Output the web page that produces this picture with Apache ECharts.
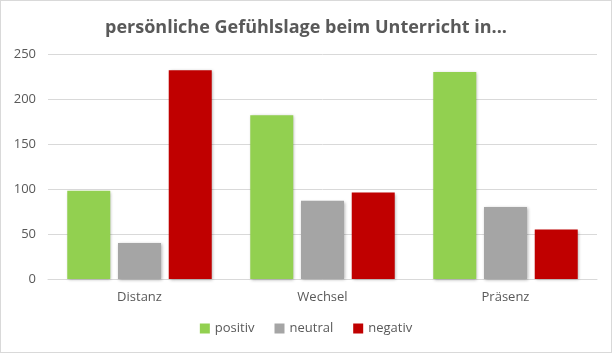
<!DOCTYPE html>
<html>
<head>
<meta charset="utf-8">
<script src="https://cdn.jsdelivr.net/npm/echarts@6/dist/echarts.min.js"></script>
<style>
  html, body { margin: 0; padding: 0; background: #fff; }
  #box { width: 610px; height: 351px; border: 1px solid #d9d9d9; }
</style>
</head>
<body>
<div id="box"></div>
<script>
const aCategories = ['Distanz', 'Wechsel', 'Präsenz'];
const aPositiv = [98, 182, 230];
const aNeutral = [40, 87, 80];
const aNegativ = [232, 96, 55];

const sFont = '"Open Sans", "Noto Sans", sans-serif';
const sText = '#595959';

const oCommonPart = {
    type: 'bar',
    barWidth: 43,
    barGap: '18%',
    itemStyle: {
        shadowColor: 'rgba(0,0,0,0.3)',
        shadowBlur: 3,
        shadowOffsetX: 1,
        shadowOffsetY: 1,
    },
};

const myChart = echarts.init(document.getElementById('box'));
myChart.setOption({
    animation: false,
    title: {
        text: 'persönliche Gefühlslage beim Unterricht in...',
        left: 'center',
        top: 13,
        textStyle: { fontFamily: sFont, fontSize: 18, fontWeight: 'bold', color: sText },
    },
    legend: {
        bottom: 12,
        itemWidth: 10,
        itemHeight: 10,
        itemGap: 20,
        icon: 'rect',
        textStyle: { fontFamily: sFont, fontSize: 13, color: sText },
        data: ['positiv', 'neutral', 'negativ'],
    },
    grid: { left: 47, right: 14, top: 53, bottom: 73 },
    xAxis: {
        type: 'category',
        data: aCategories,
        axisTick: { show: false },
        axisLine: { lineStyle: { color: '#d9d9d9' } },
        axisLabel: { fontFamily: sFont, fontSize: 13, color: sText, margin: 12 },
    },
    yAxis: {
        type: 'value',
        min: 0,
        max: 250,
        interval: 50,
        axisLabel: { fontFamily: sFont, fontSize: 13, color: sText, margin: 12 },
        splitLine: { lineStyle: { color: '#d9d9d9' } },
    },
    series: [
        { ...oCommonPart, name: 'positiv', data: aPositiv, itemStyle: { ...oCommonPart.itemStyle, color: '#92D050' } },
        { ...oCommonPart, name: 'neutral', data: aNeutral, itemStyle: { ...oCommonPart.itemStyle, color: '#A5A5A5' } },
        { ...oCommonPart, name: 'negativ', data: aNegativ, itemStyle: { ...oCommonPart.itemStyle, color: '#C00000' } },
    ],
});
</script>
</body>
</html>
